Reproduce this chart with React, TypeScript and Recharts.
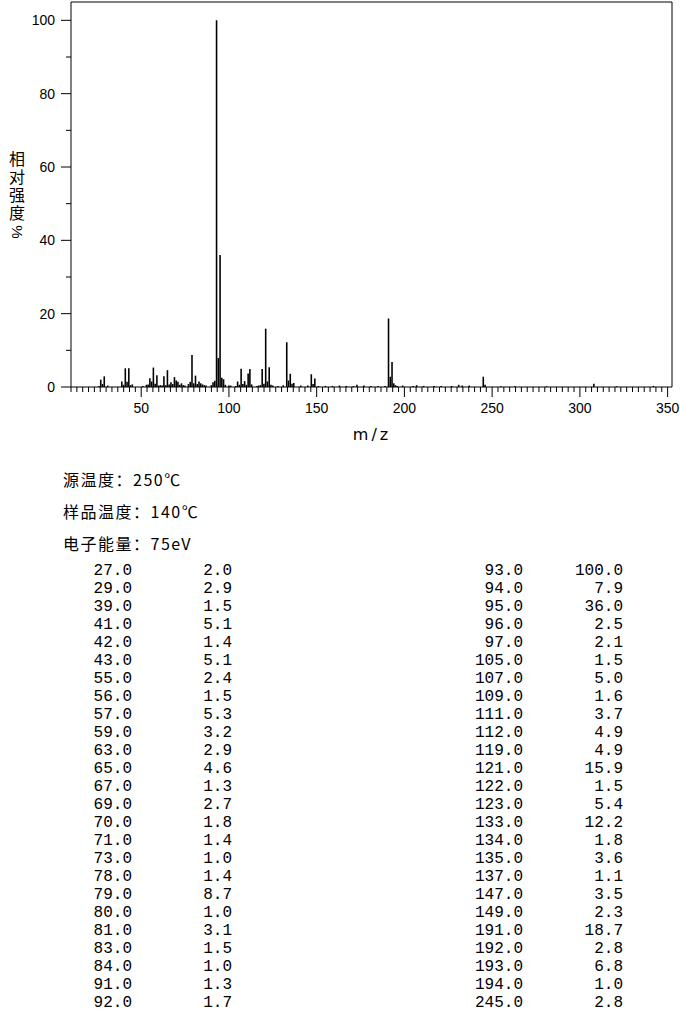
import React from 'react';
import { ComposedChart, Bar, XAxis, YAxis, ReferenceLine } from 'recharts';

// Peaks listed in the table (m/z, relative intensity %)
const tableMass = [27, 29, 39, 41, 42, 43, 55, 56, 57, 59, 63, 65, 67, 69, 70, 71, 73, 78, 79, 80, 81, 83, 84, 91, 92,
  93, 94, 95, 96, 97, 105, 107, 109, 111, 112, 119, 121, 122, 123, 133, 134, 135, 137, 147, 149, 191, 192, 193, 194, 245];
const tableIntensity = [2.0, 2.9, 1.5, 5.1, 1.4, 5.1, 2.4, 1.5, 5.3, 3.2, 2.9, 4.6, 1.3, 2.7, 1.8, 1.4, 1.0, 1.4, 8.7, 1.0, 3.1, 1.5, 1.0, 1.3, 1.7,
  100.0, 7.9, 36.0, 2.5, 2.1, 1.5, 5.0, 1.6, 3.7, 4.9, 4.9, 15.9, 1.5, 5.4, 12.2, 1.8, 3.6, 1.1, 3.5, 2.3, 18.7, 2.8, 6.8, 1.0, 2.8];

// Small peaks visible in the spectrum but not listed in the table (estimated)
const minorMass = [26, 28, 31, 40, 44, 45, 51, 53, 54, 58, 60, 61, 62, 64, 66, 68, 72, 74, 75, 77, 82, 85, 86, 87, 90, 98, 100, 101,
  104, 106, 108, 110, 113, 116, 117, 118, 120, 124, 125, 128, 131, 136, 141, 145, 148, 151, 155, 159, 163, 167, 171, 173, 177,
  181, 185, 189, 195, 196, 199, 205, 207, 211, 217, 221, 227, 231, 233, 237, 246, 255, 263, 281, 308, 321, 342];
const minorIntensity = [0.3, 0.8, 0.4, 0.6, 0.5, 0.7, 0.3, 0.6, 0.7, 0.9, 0.4, 0.5, 0.4, 0.5, 0.7, 0.8, 0.6, 0.5, 0.4, 0.8, 0.8, 0.7, 0.5, 0.4, 0.5, 0.6, 0.4, 0.4,
  0.3, 0.6, 0.8, 0.6, 0.7, 0.3, 0.4, 0.5, 0.9, 0.6, 0.4, 0.3, 0.5, 0.9, 0.4, 0.4, 0.8, 0.3, 0.3, 0.3, 0.4, 0.3, 0.3, 0.6, 0.4,
  0.3, 0.3, 0.3, 0.5, 0.3, 0.4, 0.3, 0.5, 0.3, 0.3, 0.3, 0.3, 0.6, 0.4, 0.4, 0.6, 0.2, 0.2, 0.2, 0.9, 0.2, 0.3];

const infoLines = ['源温度：250℃', '样品温度：140℃', '电子能量：75eV'];
const yAxisLabel = '相对强度';
const xAxisLabel = 'm/z';

const X_MIN = 10;
const X_MAX = 352.5;
const Y_MAX = 105;
const xMajorTicks = [50, 100, 150, 200, 250, 300, 350];
const X_MINOR_STEP = 10 / 3;
const yTicks = [0, 10, 20, 30, 40, 50, 60, 70, 80, 90, 100];
const yLabeledTicks = [0, 20, 40, 60, 80, 100];

const xTicks: number[] = [];
for (let i = 0; ; i++) {
  const v = Math.round((X_MIN + i * X_MINOR_STEP) * 10000) / 10000;
  if (v > X_MAX) break;
  xTicks.push(v);
}

const data = [
  ...tableMass.map((m, i) => ({ mz: m, intensity: tableIntensity[i] })),
  ...minorMass.map((m, i) => ({ mz: m, intensity: minorIntensity[i] })),
].sort((a, b) => a.mz - b.mz);

const tickFont = { fontFamily: '"Liberation Sans", Arial, sans-serif', fontSize: 14, fill: '#000' };

const XTick = (props: any) => {
  const { x, y, payload } = props;
  const v = payload.value;
  const major = xMajorTicks.some((m) => Math.abs(m - v) < 1e-3);
  return (
    <g>
      <line x1={x} y1={y} x2={x} y2={y + (major ? 10 : 5)} stroke="#000" strokeWidth={1} />
      {major && (
        <text x={x} y={y + 26} textAnchor="middle" {...tickFont}>
          {Math.round(v)}
        </text>
      )}
    </g>
  );
};

const YTick = (props: any) => {
  const { x, y, payload } = props;
  const v = payload.value;
  const major = yLabeledTicks.includes(v);
  return (
    <g>
      <line x1={x - (major ? 10 : 5)} y1={y} x2={x} y2={y} stroke="#000" strokeWidth={1} />
      {major && (
        <text x={x - 16} y={y + 5} textAnchor="end" {...tickFont}>
          {v}
        </text>
      )}
    </g>
  );
};

const monoStyle: React.CSSProperties = {
  position: 'absolute',
  fontFamily: '"Liberation Mono", "Courier New", monospace',
  fontSize: 16,
  lineHeight: '18px',
  height: 18,
  textAlign: 'right',
  color: '#000',
  whiteSpace: 'pre',
};

export default function App() {
  const half = Math.ceil(tableMass.length / 2);
  const rows = [];
  for (let i = 0; i < tableMass.length; i++) {
    const col = i < half ? 0 : 1;
    const r = col === 0 ? i : i - half;
    const top = 562 + r * 18;
    const massRight = col === 0 ? 132 : 523;
    const intRight = col === 0 ? 232 : 623;
    rows.push(
      <div key={'m' + i} style={{ ...monoStyle, top, left: massRight - 80, width: 80 }}>
        {tableMass[i].toFixed(1)}
      </div>,
      <div key={'v' + i} style={{ ...monoStyle, top, left: intRight - 80, width: 80 }}>
        {tableIntensity[i].toFixed(1)}
      </div>
    );
  }

  return (
    <div style={{ position: 'absolute', left: 0, top: 0, width: 680, height: 1020, background: '#fff', overflow: 'hidden' }}>
      <div style={{ position: 'absolute', left: 0, top: 0 }}>
        <ComposedChart width={680} height={450} data={data} margin={{ top: 2, right: 8, left: 11, bottom: 33 }}>
          <XAxis
            dataKey="mz"
            type="number"
            domain={[X_MIN, X_MAX]}
            ticks={xTicks}
            interval={0}
            allowDataOverflow
            tickSize={0}
            tickMargin={0}
            tickLine={false}
            axisLine={{ stroke: '#000', strokeWidth: 1 }}
            tick={<XTick />}
            height={30}
          />
          <YAxis
            type="number"
            domain={[0, Y_MAX]}
            ticks={yTicks}
            interval={0}
            allowDataOverflow
            tickSize={0}
            tickMargin={0}
            tickLine={false}
            axisLine={{ stroke: '#000', strokeWidth: 1 }}
            tick={<YTick />}
            width={60}
          />
          <ReferenceLine y={Y_MAX} stroke="#000" strokeWidth={1} />
          <ReferenceLine x={X_MAX} stroke="#000" strokeWidth={1} />
          <Bar dataKey="intensity" fill="#000" barSize={2} isAnimationActive={false} />
        </ComposedChart>
      </div>

      {/* Y-axis label, stacked vertically (one character per line) */}
      <div
        style={{
          position: 'absolute',
          left: 8,
          width: 18,
          top: 149,
          lineHeight: '18px',
          textAlign: 'center',
          fontFamily: '"Noto Sans CJK SC", sans-serif',
          fontSize: 16,
          color: '#000',
          wordBreak: 'break-all',
        }}
      >
        {yAxisLabel}
      </div>
      <div
        style={{
          position: 'absolute',
          left: 7,
          width: 20,
          top: 223,
          height: 18,
          lineHeight: '18px',
          textAlign: 'center',
          fontFamily: '"Liberation Sans", sans-serif',
          fontSize: 15,
          color: '#000',
          transform: 'rotate(90deg)',
        }}
      >
        %
      </div>

      {/* X-axis label */}
      <div
        style={{
          position: 'absolute',
          left: 322,
          width: 100,
          top: 425,
          height: 20,
          lineHeight: '20px',
          textAlign: 'center',
          fontFamily: '"DejaVu Sans", sans-serif',
          fontSize: 16,
          letterSpacing: 3,
          color: '#000',
        }}
      >
        {xAxisLabel}
      </div>

      {/* Info lines */}
      {infoLines.map((t, i) => (
        <div
          key={t}
          style={{
            position: 'absolute',
            left: 63,
            top: 469 + i * 32,
            height: 20,
            lineHeight: '20px',
            fontFamily: '"Noto Sans CJK SC", sans-serif',
            fontSize: 16,
            letterSpacing: 1.5,
            color: '#000',
            whiteSpace: 'pre',
          }}
        >
          {t}
        </div>
      ))}

      {rows}
    </div>
  );
}
